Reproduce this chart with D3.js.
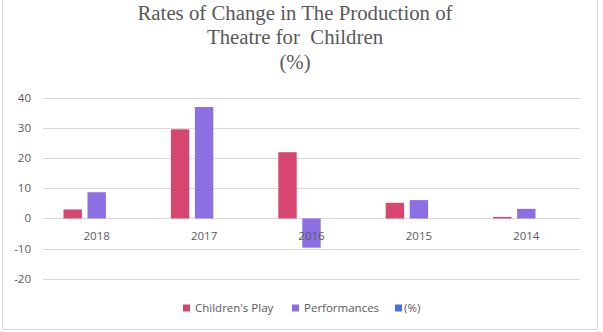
<!DOCTYPE html>
<html>
<head>
<meta charset="utf-8">
<script src="https://cdn.jsdelivr.net/npm/d3@7"></script>
<style>
  body { margin: 0; background: #fff; }
  svg { display: block; }
</style>
</head>
<body>
<svg id="chart" width="603" height="332"></svg>
<script>
const years = ["2018", "2017", "2016", "2015", "2014"];
const childrensPlay = [3.0, 29.6, 22.0, 5.2, 0.5];
const performances = [8.7, 37.0, -9.7, 6.1, 3.2];
const percent = [null, null, null, null, null]; // empty series, only in legend
const yTicks = [-20, -10, 0, 10, 20, 30, 40];
const seriesNames = ["Children's Play", "Performances", "(%)"];
const titleLines = ["Rates of Change in The Production of", "Theatre for  Children", "(%)"];

const colors = ["#d6466f", "#8c6fe3", "#4870e0"];
const textGray = "#595959";
const labelFont = "'Open Sans', 'Liberation Sans', sans-serif";

const svg = d3.select("#chart");
const width = 603, height = 332;
const margin = { top: 98, right: 23, bottom: 53, left: 43 };

// outer frame (top edge is out of the picture)
svg.append("path")
    .attr("d", `M2.5,0 V329.5 H597.5 V0`)
    .attr("fill", "none")
    .attr("stroke", "#d9d9d9")
    .attr("stroke-width", 1);

// title
svg.append("g").selectAll("text")
    .data(titleLines)
    .enter()
    .append("text")
    .attr("x", 295)
    .attr("y", (d, i) => 20 + i * 24.3)
    .attr("text-anchor", "middle")
    .style("white-space", "pre")
    .style("font-family", "'Liberation Serif', 'Times New Roman', serif")
    .style("font-size", "20.8px")
    .style("fill", textGray)
    .text(d => d);

const x = d3.scaleBand()
    .domain(years)
    .range([margin.left, width - margin.right]);

const y = d3.scaleLinear()
    .domain([-20, 40])
    .range([278.7, 98]);

// gridlines
svg.append("g").selectAll("line")
    .data(yTicks)
    .enter()
    .append("line")
    .attr("x1", margin.left)
    .attr("x2", width - margin.right)
    .attr("y1", d => Math.round(y(d)) + 0.5)
    .attr("y2", d => Math.round(y(d)) + 0.5)
    .attr("stroke", "#d9d9d9")
    .attr("stroke-width", 1);

// y axis labels
svg.append("g").selectAll("text")
    .data(yTicks)
    .enter()
    .append("text")
    .attr("x", 31)
    .attr("y", d => y(d) + 4)
    .attr("text-anchor", "end")
    .style("font-family", labelFont)
    .style("font-size", "11.5px")
    .style("fill", textGray)
    .text(d => d);

// bars: three slots per year, the third series is empty
const bw = x.bandwidth();
const barW = 18.4, barGap = 5.6;
const groupW = 3 * barW + 2 * barGap;
const sub = d3.scaleOrdinal().domain([0, 1, 2])
    .range([0, 1, 2].map(i => (bw - groupW) / 2 + i * (barW + barGap)));

const series = [childrensPlay, performances, percent];
series.forEach((vals, si) => {
    svg.append("g").selectAll("rect")
        .data(vals.map((v, i) => ({ year: years[i], value: v })).filter(d => d.value !== null))
        .enter()
        .append("rect")
        .attr("x", d => x(d.year) + sub(si))
        .attr("y", d => y(Math.max(0, d.value)))
        .attr("width", barW)
        .attr("height", d => Math.abs(y(d.value) - y(0)))
        .attr("fill", colors[si]);
});

// x category labels
svg.append("g").selectAll("text")
    .data(years)
    .enter()
    .append("text")
    .attr("x", d => x(d) + bw / 2)
    .attr("y", 240)
    .attr("text-anchor", "middle")
    .style("font-family", labelFont)
    .style("font-size", "11.5px")
    .style("fill", textGray)
    .text(d => d);

// legend
const legendX = [183, 292, 395];
const legend = svg.append("g").selectAll("g")
    .data(seriesNames)
    .enter()
    .append("g")
    .attr("transform", (d, i) => `translate(${legendX[i]},308)`);

legend.append("rect")
    .attr("x", 0)
    .attr("y", -3.5)
    .attr("width", 7)
    .attr("height", 7)
    .attr("fill", (d, i) => colors[i]);

legend.append("text")
    .attr("x", (d, i) => i === 2 ? 9 : 12)
    .attr("y", 4)
    .style("font-family", labelFont)
    .style("font-size", "11.5px")
    .style("fill", textGray)
    .text(d => d);
</script>
</body>
</html>
